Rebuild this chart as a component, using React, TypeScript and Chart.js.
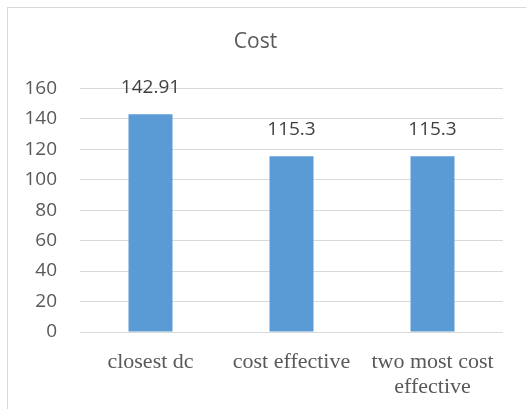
import React, { useEffect, useRef } from "react";
import { Chart, registerables } from "chart.js";

Chart.register(...registerables);

const categories: (string | string[])[] = ["closest dc", "cost effective", ["two most cost", "effective"]];
const costValues: number[] = [142.91, 115.3, 115.3];
const yMax = 160;
const yStep = 20;

const valueLabels = {
  id: "valueLabels",
  afterDatasetsDraw(chart: any) {
    const ctx = chart.ctx;
    const meta = chart.getDatasetMeta(0);
    ctx.save();
    ctx.font = "19px 'Open Sans'";
    ctx.fillStyle = "#404040";
    ctx.textAlign = "center";
    ctx.textBaseline = "middle";
    meta.data.forEach((bar: any, i: number) => {
      ctx.fillText(String(chart.data.datasets[0].data[i]), bar.x, bar.y - 27);
    });
    ctx.restore();
  },
};

export default function App() {
  const ref = useRef<HTMLCanvasElement>(null);
  useEffect(() => {
    if (!ref.current) return;
    const chart = new Chart(ref.current, {
      type: "bar",
      data: {
        labels: categories,
        datasets: [
          {
            label: "Cost",
            data: costValues,
            backgroundColor: "#5B9BD5",
            borderWidth: 0,
            categoryPercentage: 1,
            barPercentage: 0.312,
          },
        ],
      },
      options: {
        animation: false,
        responsive: true,
        maintainAspectRatio: false,
        layout: { padding: { left: 0, right: 23, top: 0, bottom: 0 } },
        plugins: {
          legend: { display: false },
          tooltip: { enabled: false },
          title: {
            display: true,
            text: "Cost",
            color: "#595959",
            font: { family: "'Open Sans'", size: 21, weight: "normal" },
            padding: { top: 21, bottom: 34 },
          },
        },
        scales: {
          x: {
            grid: { display: false },
            border: { display: false },
            ticks: {
              color: "#595959",
              font: { family: "'Liberation Serif'", size: 22, lineHeight: 1.14 },
              padding: 10,
              maxRotation: 0,
              autoSkip: false,
            },
            afterFit: (s: any) => {
              s.height = 77;
            },
          },
          y: {
            min: 0,
            max: yMax,
            ticks: {
              stepSize: yStep,
              color: "#595959",
              font: { family: "'Open Sans'", size: 19 },
              padding: 23,
            },
            grid: { color: "#d9d9d9", lineWidth: 1, drawTicks: false },
            border: { display: false },
            afterFit: (s: any) => {
              s.width = 72;
            },
          },
        },
      },
      plugins: [valueLabels],
    });
    return () => chart.destroy();
  }, []);

  return (
    <>
      <div
        style={{
          position: "absolute",
          left: 7,
          top: 7,
          width: 519,
          height: 402,
          borderLeft: "1px solid #d9d9d9",
          borderTop: "1px solid #d9d9d9",
          boxSizing: "border-box",
          pointerEvents: "none",
        }}
      />
      <div style={{ position: "relative", width: 518, height: 401 }}>
        <canvas ref={ref} />
      </div>
    </>
  );
}
